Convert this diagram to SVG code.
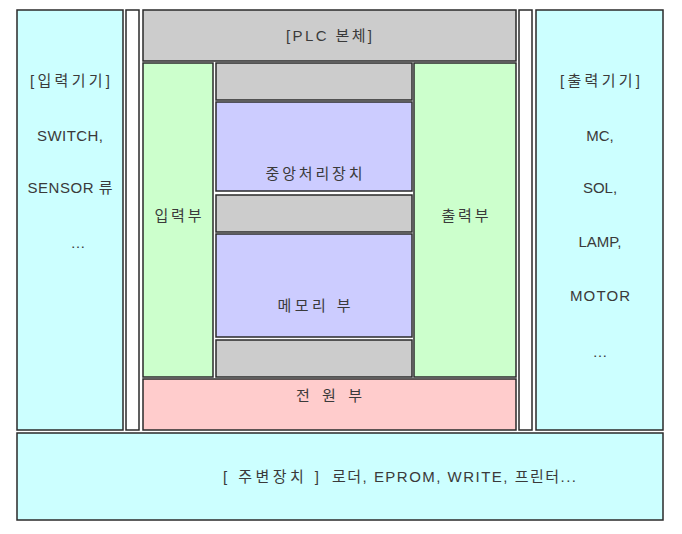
<svg xmlns="http://www.w3.org/2000/svg" width="682" height="534" viewBox="0 0 682 534">
<style>
rect{stroke:#2a2a2a;stroke-width:1.5}
.cy{fill:#ccffff}.gr{fill:#cccccc}.gn{fill:#ccffcc}.pu{fill:#ccccff}.pk{fill:#ffcccc}.wh{fill:#ffffff}
text{font-family:"Liberation Sans","Noto Sans CJK KR",sans-serif;font-size:15px;fill:#3a3a3a;text-anchor:middle}
.st{text-anchor:start}
</style>
<rect width="682" height="534" fill="#ffffff" style="stroke:none"/>
<g id="input-devices">
<rect class="cy" x="17" y="10" width="106" height="420"/>
<text x="70" y="86" textLength="80" lengthAdjust="spacing">[입력기기]</text>
<text x="70" y="141" textLength="66" lengthAdjust="spacing">SWITCH,</text>
<text x="70" y="193" textLength="85" lengthAdjust="spacing">SENSOR 류</text>
<text x="78" y="248">…</text>
</g>
<g id="strip-left"><rect class="wh" x="126" y="10" width="13" height="420"/></g>
<g id="plc-body">
<rect class="gr" x="143" y="10" width="373" height="51"/>
<text x="329" y="41" textLength="86" lengthAdjust="spacing">[PLC 본체]</text>
</g>
<g id="input-unit">
<rect class="gn" x="143" y="63" width="70" height="314"/>
<text x="178" y="221" textLength="47" lengthAdjust="spacing">입력부</text>
</g>
<g id="gray1"><rect class="gr" x="216" y="63" width="196" height="37"/></g>
<g id="cpu">
<rect class="pu" x="216" y="102" width="196" height="89"/>
<text x="314" y="179" textLength="97" lengthAdjust="spacing">중앙처리장치</text>
</g>
<g id="gray2"><rect class="gr" x="216" y="195" width="196" height="37"/></g>
<g id="memory">
<rect class="pu" x="216" y="234" width="196" height="103"/>
<text x="314" y="311" textLength="73" lengthAdjust="spacing">메모리 부</text>
</g>
<g id="gray3"><rect class="gr" x="216" y="340" width="196" height="37"/></g>
<g id="output-unit">
<rect class="gn" x="414" y="63" width="102" height="314"/>
<text x="465" y="221" textLength="47" lengthAdjust="spacing">출력부</text>
</g>
<g id="power">
<rect class="pk" x="143" y="379" width="373" height="51"/>
<text x="329" y="401" textLength="66" lengthAdjust="spacing">전 원 부</text>
</g>
<g id="strip-right"><rect class="wh" x="519" y="10" width="13" height="420"/></g>
<g id="output-devices">
<rect class="cy" x="536" y="10" width="127" height="420"/>
<text x="600" y="86" textLength="80" lengthAdjust="spacing">[출력기기]</text>
<text x="600" y="141">MC,</text>
<text x="600" y="193">SOL,</text>
<text x="600" y="247">LAMP,</text>
<text x="600" y="301" textLength="60" lengthAdjust="spacing">MOTOR</text>
<text x="600" y="357">…</text>
</g>
<g id="peripherals">
<rect class="cy" x="17" y="433" width="646" height="87"/>
<text class="st" x="223" y="482" textLength="96" lengthAdjust="spacing">[ 주변장치 ]</text>
<text class="st" x="332" y="482" textLength="244" lengthAdjust="spacing">로더, EPROM, WRITE, 프린터...</text>
</g>
<g id="connectors"></g>
</svg>
